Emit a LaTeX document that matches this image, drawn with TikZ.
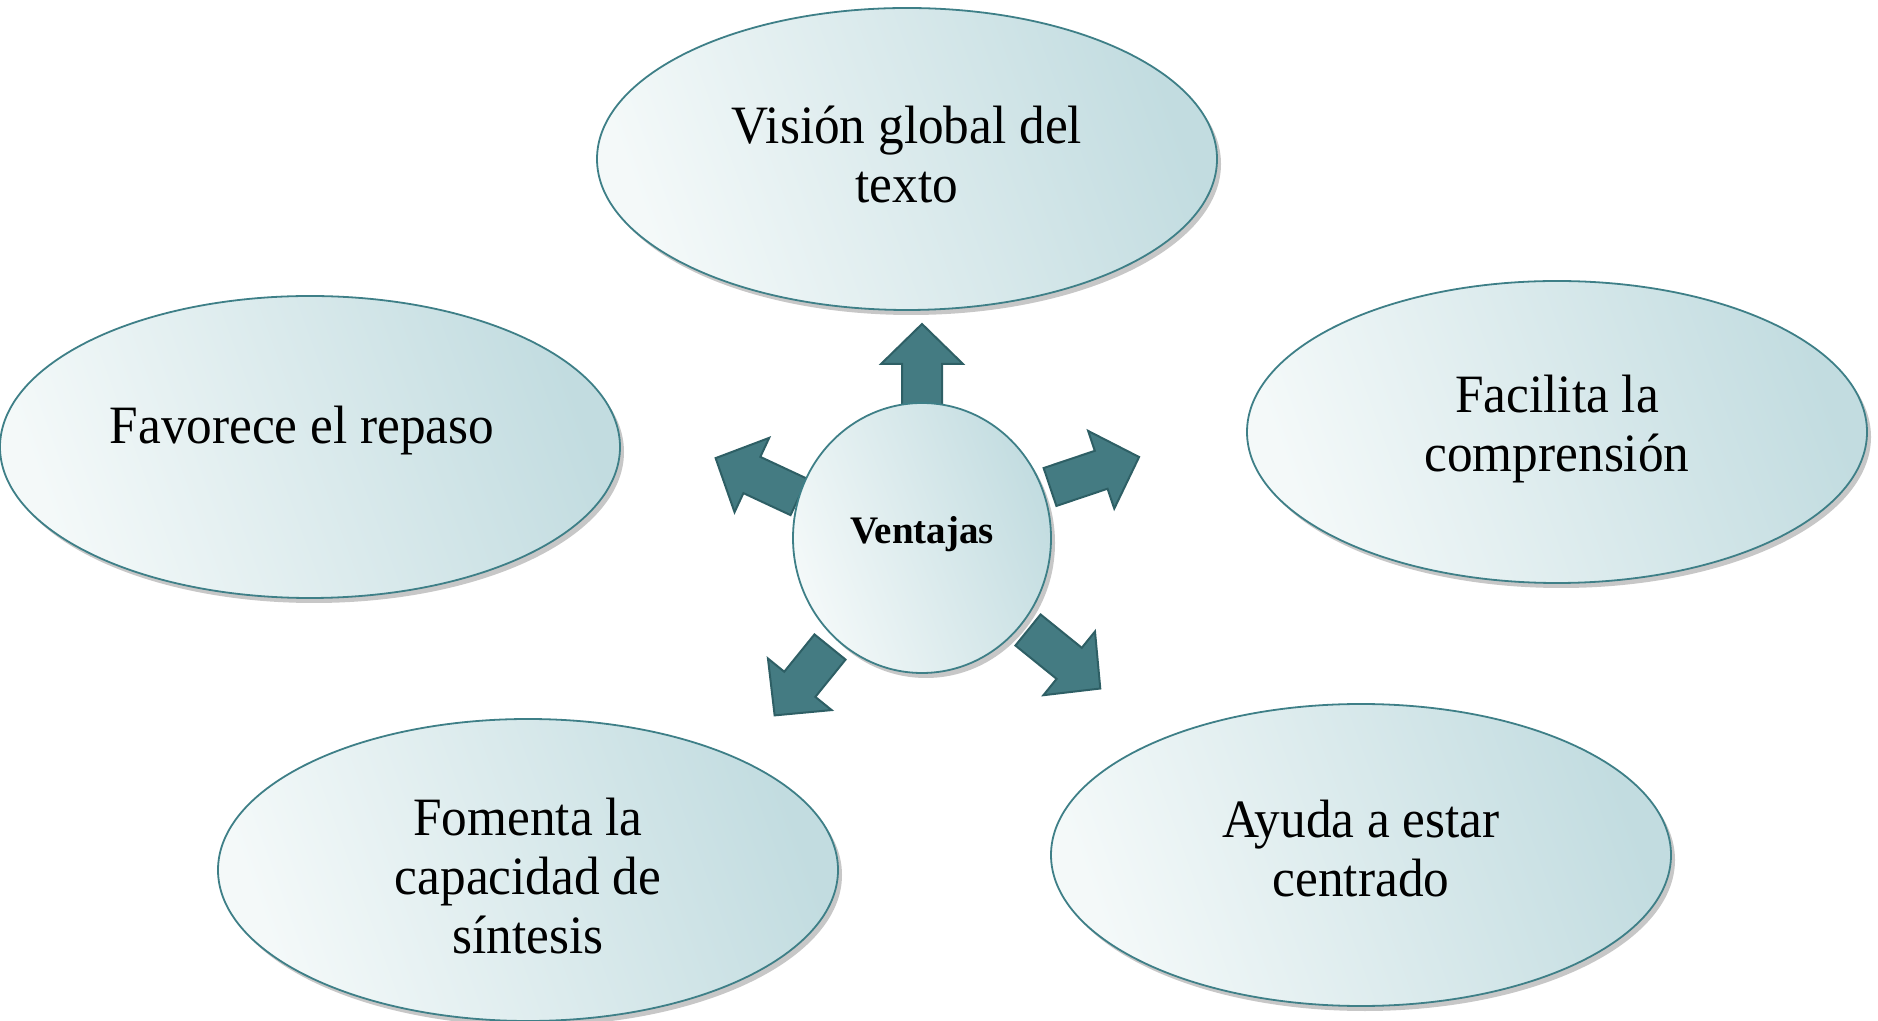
\documentclass[tikz,border=0pt]{standalone}
\usepackage{fontspec}
\setmainfont[FakeStretch=0.95]{Liberation Serif}
\newfontfamily\boldfnt{Liberation Serif}
\usetikzlibrary{shapes.geometric,shadows}
\definecolor{edgeT}{HTML}{3E7F87}
\definecolor{lightT}{HTML}{F4F9F9}
\definecolor{darkT}{HTML}{C2DCE0}
\definecolor{arrF}{HTML}{447B82}
\definecolor{arrD}{HTML}{2E5F65}
\tikzset{
  bubble/.style={ellipse, draw=edgeT, line width=1.8pt, left color=lightT, right color=darkT, shading angle=110,
    minimum width=620pt, minimum height=302pt, inner sep=0pt,
    drop shadow={shadow xshift=4pt, shadow yshift=-5pt, opacity=0.22, fill=black}},
  hub/.style={bubble, minimum width=258pt, minimum height=270pt},
  txt/.style={align=center, font=\fontsize{54}{59}\selectfont, inner sep=0pt},
  hubtxt/.style={font=\boldfnt\bfseries\fontsize{39}{44}\selectfont, inner sep=0pt},
  arrowsty/.style={fill=arrF, draw=arrD, line width=2pt, line join=miter},
  pics/barrow/.style={code={
    \draw[arrowsty] (0,-20) -- (#1-40,-20) -- (#1-40,-41) -- (#1,0) -- (#1-40,41) -- (#1-40,20) -- (0,20) -- cycle;}}
}
\begin{document}
\begin{tikzpicture}[x=1pt,y=1pt]
\useasboundingbox (0,0) rectangle (1878,1020);
% outer bubbles
\node[bubble] (top) at (907,861) {};
\node[bubble] (lft) at (310,573) {};
\node[bubble] (rgt) at (1557,588) {};
\node[bubble] (bl) at (528,150) {};
\node[bubble] (br) at (1361,165) {};
\node[txt] (ttop) at (907,866) {Visión global del\\texto};
\node[txt] (tlft) at (302,589) {Favorece el repaso};
\node[txt] (trgt) at (1557,591) {Facilita la\\comprensión};
\node[txt] (tbl) at (528,144) {Fomenta la\\capacidad de\\síntesis};
\node[txt] (tbr) at (1361,171) {Ayuda a estar\\centrado};
% arrows
\coordinate (aU) at (922,610);
\coordinate (aR) at (1050,533);
\coordinate (aL) at (799,523);
\coordinate (aBR) at (1028,390);
\coordinate (aBL) at (830,373);
\pic[rotate=90] at (aU) {barrow=86};
\pic[rotate=18.6] at (aR) {barrow=94};
\pic[rotate=155] at (aL) {barrow=92};
\pic[rotate=-39] at (aBR) {barrow=93};
\pic[rotate=-129] at (aBL) {barrow=88};
% hub
\node[hub] (hub) at (922,482) {};
\node[hubtxt] (thub) at (922,486) {Ventajas};
\end{tikzpicture}
\end{document}
